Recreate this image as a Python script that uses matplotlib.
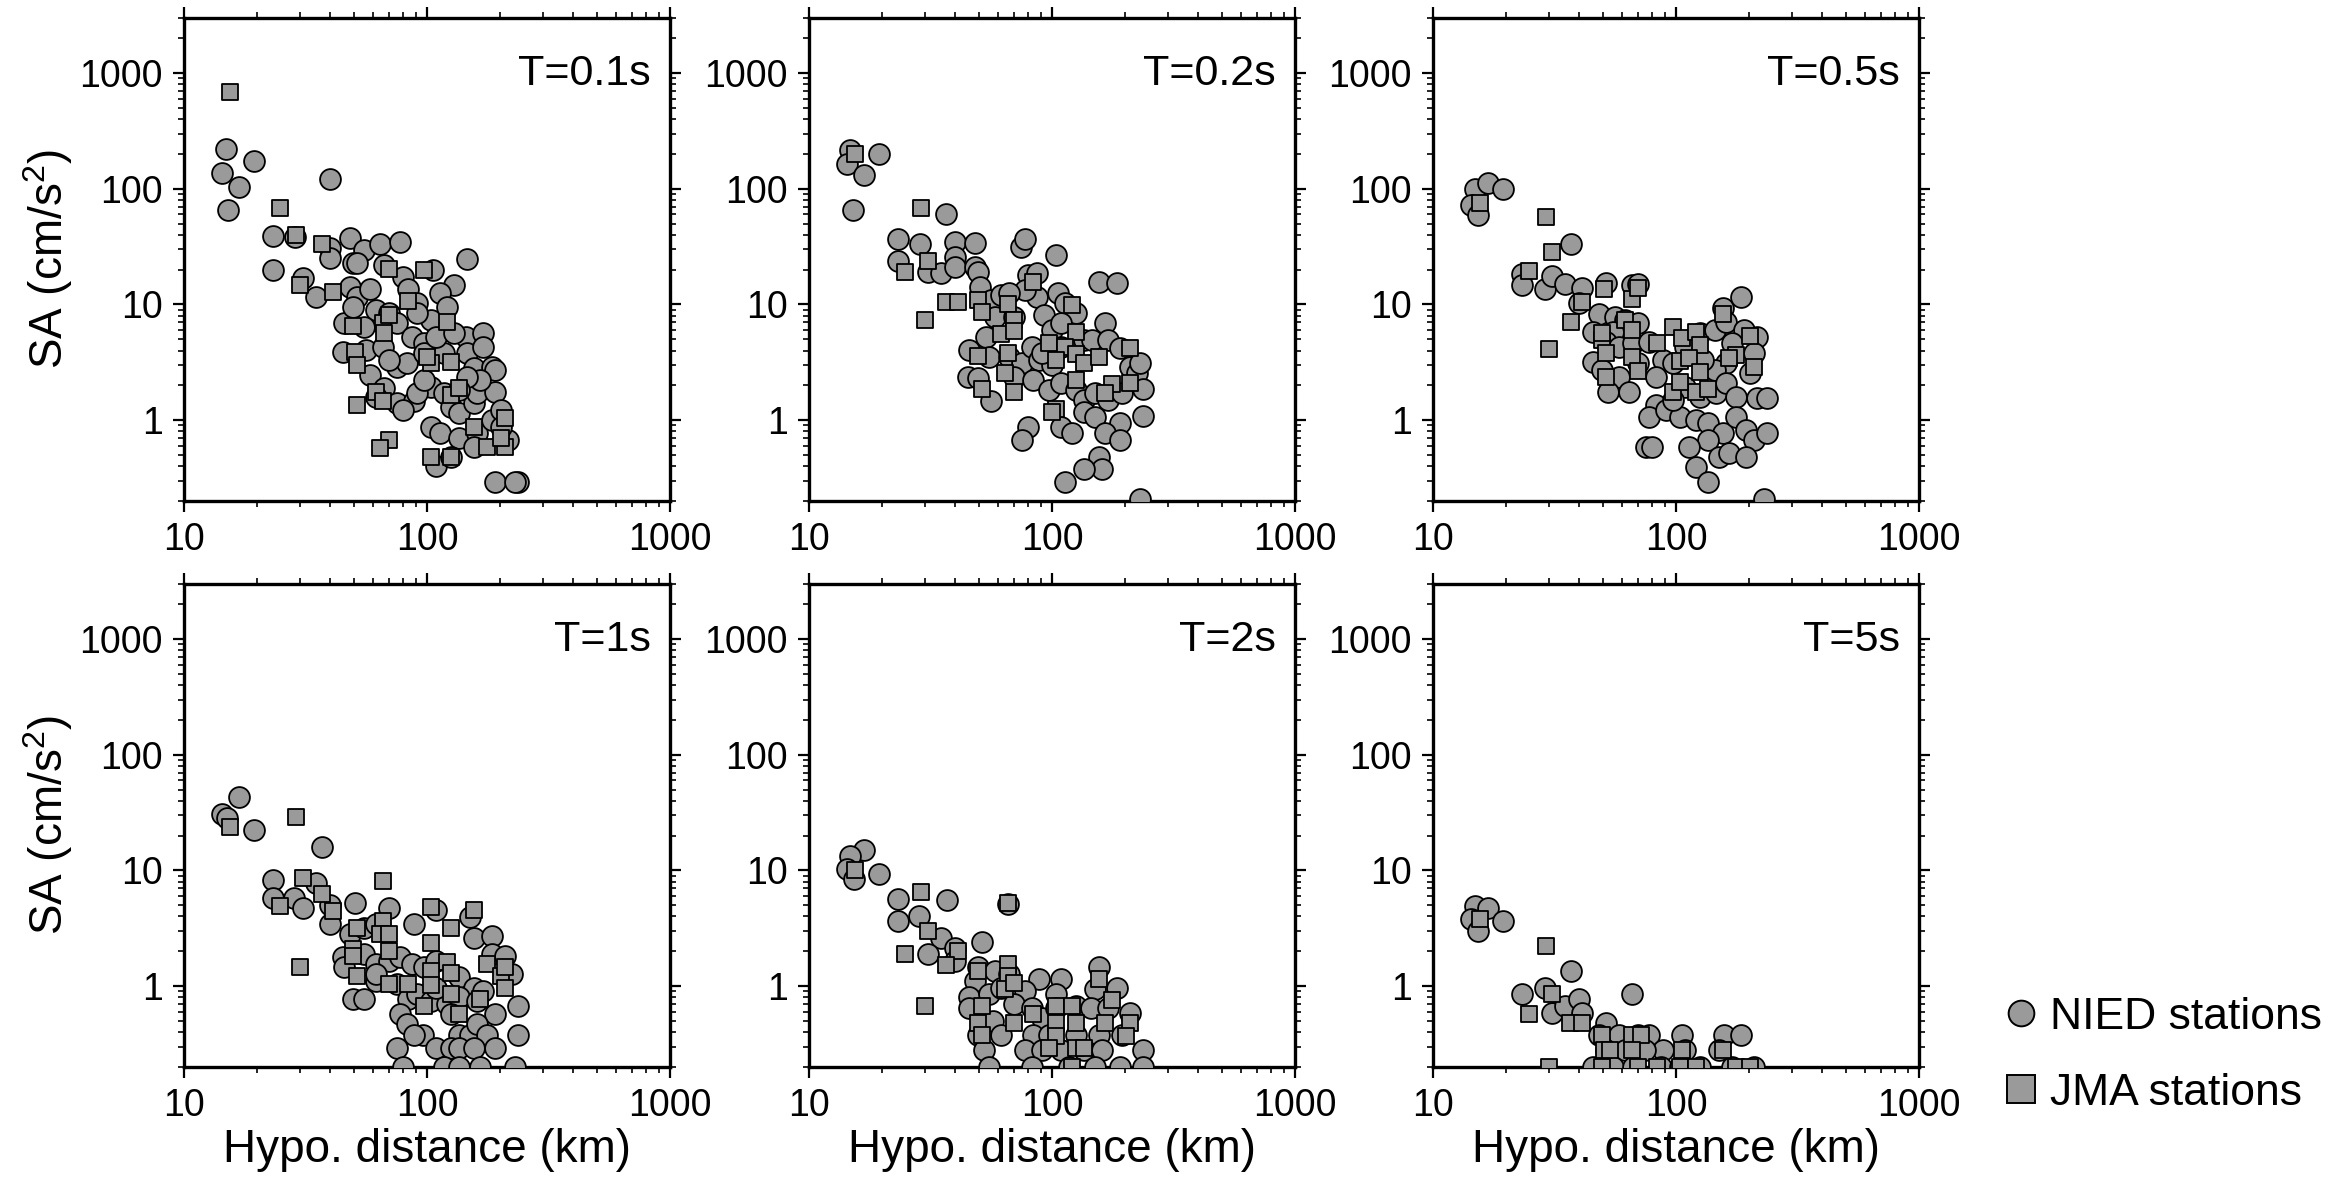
import numpy as np
import matplotlib.pyplot as plt
from matplotlib.ticker import LogLocator, NullFormatter
from matplotlib.lines import Line2D

plt.rcParams['font.family'] = ['Liberation Sans', 'DejaVu Sans']
plt.rcParams['mathtext.fontset'] = 'custom'
plt.rcParams['mathtext.rm'] = 'Liberation Sans'

periods = ['T=0.1s', 'T=0.2s', 'T=0.5s', 'T=1s', 'T=2s', 'T=5s']

# (hypocentral distance km, SA cm/s2)
nied_01 = [(14.9, 221), (19.4, 175), (14.4, 136), (16.8, 104), (15.2, 66), (39.9, 122), (23.3, 39.4),
           (28.6, 38.6), (23.3, 19.9), (31.0, 16.8), (35.1, 11.5), (39.9, 30.6), (39.9, 25.1), (48.4, 37.9),
           (55.0, 29.6), (64.0, 33.1), (77.6, 34.5), (145.5, 24.6), (49.8, 22.7), (66.5, 22.0), (79.8, 17.4),
           (106, 19.9), (129, 14.8), (83.6, 13.5), (113, 12.5), (48.4, 14.3), (51.6, 11.7), (58.2, 13.5),
           (61.6, 8.97), (69.8, 8.40), (91.2, 10.2), (103.5, 7.35), (121, 9.58), (45.5, 6.87), (55.0, 6.44),
           (75.5, 6.87), (87.1, 5.27), (97.3, 4.61), (144.5, 5.27), (170, 5.64), (45.2, 3.91), (56.0, 4.04),
           (65.8, 4.32), (58.2, 2.46), (75.5, 2.90), (83.0, 3.10), (97.3, 3.78), (117.5, 3.78), (145.5, 3.78),
           (156, 2.81), (184.5, 2.90), (190, 2.72), (66.5, 1.88), (61.6, 1.60), (75.5, 1.40), (88.5, 1.45),
           (103.5, 1.95), (117.5, 1.71), (126, 1.31), (135, 1.15), (156, 1.40), (161, 1.71), (190, 1.76),
           (166, 2.22), (103.5, 0.88), (113, 0.77), (135, 0.70), (161, 0.77), (184.5, 1.0), (216, 0.67),
           (156, 0.59), (109.4, 0.40), (126, 0.48), (190, 0.29), (237, 0.29), (230, 0.29), (202, 1.22),
           (145.5, 2.38), (91.2, 1.71), (79.8, 1.22), (69.6, 3.31), (49.8, 9.58), (51.6, 22.7), (91.2, 8.40),
           (109.4, 5.27), (129, 5.64), (170, 4.32), (202, 0.88), (97.3, 2.22), (135, 1.82)]
jma_01 = [(15.5, 682), (24.8, 68.3), (29.0, 40.2), (37.1, 33.1), (30.1, 14.8), (41.2, 12.7), (69.8, 20.1),
          (96.8, 19.9), (83.6, 10.8), (49.8, 6.56), (65.8, 6.87), (121, 7.01), (50.4, 3.91), (51.6, 3.00),
          (103.5, 3.14), (126, 3.21), (66.5, 5.64), (69.6, 8.12), (61.5, 1.76), (65.8, 1.45), (51.6, 1.35),
          (126, 1.65), (135, 1.88), (156, 0.88), (209, 1.05), (176, 0.59), (209, 0.59), (202, 0.70),
          (69.6, 0.68), (64.0, 0.58), (103.5, 0.48), (126, 0.48), (99.8, 3.54)]

nied_02 = [(14.8, 217), (14.4, 164), (19.4, 200), (16.8, 132), (15.2, 65.6), (36.8, 60.6), (23.3, 36.6),
           (28.6, 33.3), (39.9, 34.9), (48.4, 33.8), (23.3, 23.9), (31.0, 19.2), (35.1, 18.8), (39.9, 25.9),
           (39.9, 21.3), (48.4, 21.3), (49.8, 19.2), (74.5, 31.6), (77.6, 36.6), (103.5, 26.8), (156, 15.6),
           (184.5, 15.2), (79.8, 18.0), (87.1, 18.8), (87.1, 11.7), (77.6, 13.3), (50.4, 14.3), (56.0, 10.9),
           (61.5, 12.1), (66.5, 12.5), (58.2, 7.85), (53.3, 5.27), (69.6, 7.85), (92.7, 8.12), (106, 12.5),
           (113, 10.2), (126, 8.39), (166, 6.97), (99.8, 6.02), (109.4, 6.87), (45.5, 4.04), (55.0, 3.54),
           (66.5, 3.54), (75.5, 3.10), (83.0, 4.32), (88.5, 3.31), (99.8, 3.00), (109.4, 4.32), (135, 4.93),
           (145.5, 4.93), (170, 4.93), (190, 4.18), (209, 2.90), (223, 2.54), (45.2, 2.38), (49.8, 2.30),
           (56.0, 1.45), (69.6, 2.38), (83.6, 2.22), (97.3, 1.82), (109.4, 2.08), (126, 1.82), (135, 1.49),
           (150, 1.71), (170, 1.49), (194.5, 1.71), (237, 1.85), (135, 1.18), (150, 1.07), (190, 0.95),
           (237, 1.09), (166, 0.77), (190, 0.67), (79.8, 0.88), (75.5, 0.67), (109.4, 0.88), (121, 0.77),
           (156, 0.48), (161, 0.38), (135, 0.38), (113, 0.29), (230, 0.21), (230, 3.10), (91.2, 3.78)]
jma_02 = [(15.5, 200), (29.0, 67.8), (31.0, 23.8), (24.8, 19.2), (36.8, 10.6), (41.2, 10.5), (30.1, 7.35),
          (49.8, 10.9), (51.6, 8.67), (65.8, 10.1), (69.8, 7.35), (61.6, 5.52), (69.8, 5.90), (83.6, 15.6),
          (121, 9.90), (126, 5.82), (96.8, 4.61), (113, 4.32), (103.5, 3.31), (126, 3.71), (135.5, 3.10),
          (156, 3.54), (209, 4.18), (49.8, 3.59), (65.8, 3.78), (64.0, 2.58), (51.6, 1.85), (69.6, 1.74),
          (126, 2.22), (176, 2.05), (209, 2.11), (166, 1.73), (103.5, 1.26), (99.8, 1.18)]

nied_05 = [(14.9, 99), (16.9, 113), (19.4, 99), (14.4, 72.6), (15.3, 59.4), (37.1, 33.3), (23.3, 18.4),
           (23.3, 14.8), (28.8, 13.5), (31.0, 17.6), (35.1, 15.1), (41.2, 13.8), (39.9, 10.2), (51.6, 15.3),
           (65.8, 14.8), (69.6, 15.1), (48.4, 8.28), (56.0, 7.85), (61.6, 7.35), (45.5, 5.83), (55.0, 5.83),
           (69.6, 6.88), (51.6, 4.78), (58.2, 4.32), (66.5, 4.62), (45.5, 3.21), (49.8, 2.72), (58.2, 2.38),
           (52.5, 1.76), (64.0, 1.76), (77.6, 4.78), (88.5, 3.32), (83.0, 2.38), (97.3, 3.10), (109.4, 4.32),
           (126, 5.64), (144.5, 6.02), (156, 9.27), (184.5, 11.7), (161, 7.11), (190, 6.02), (216, 5.27),
           (170, 4.62), (161, 3.10), (209, 3.78), (202, 2.54), (144.5, 2.72), (109.4, 1.95), (126, 1.60),
           (145.5, 1.71), (161, 2.08), (176, 1.60), (216, 1.55), (237, 1.55), (83.0, 1.35), (77.6, 1.07),
           (91.2, 1.23), (103.5, 1.07), (121, 1.00), (135, 0.94), (156, 0.77), (176, 1.07), (194.5, 0.82),
           (209, 0.67), (237, 0.77), (135, 0.67), (150, 0.48), (166, 0.52), (194.5, 0.48), (113, 0.59),
           (75.5, 0.59), (79.8, 0.59), (121, 0.39), (135.5, 0.29), (230, 0.21), (97.3, 1.50), (69.6, 3.10),
           (129, 3.32)]
jma_05 = [(15.6, 75), (29.2, 56.8), (31.0, 28.2), (24.8, 19.5), (41.2, 10.6), (50.4, 13.5), (65.8, 11.1),
          (69.6, 13.8), (37.1, 7.11), (30.1, 4.10), (49.8, 4.93), (51.6, 3.84), (61.6, 7.35), (65.8, 6.02),
          (49.8, 5.64), (65.8, 3.50), (69.8, 2.68), (51.6, 2.35), (83.6, 4.62), (97.3, 6.44), (106, 5.10),
          (121, 5.83), (126, 4.47), (103.5, 3.27), (113, 3.43), (126, 2.63), (97.3, 1.76), (121, 1.74),
          (135.5, 1.85), (103.5, 2.15), (156, 8.28), (202, 5.35), (176, 3.66), (209, 2.86), (166, 3.43)]

nied_1 = [(16.8, 43.3), (14.4, 31.0), (15.0, 28.3), (19.4, 22.3), (37.1, 15.8), (23.3, 8.28), (23.3, 5.83),
          (28.4, 5.83), (31.0, 4.72), (35.1, 7.85), (39.9, 5.04), (39.9, 3.47), (50.4, 5.28), (69.6, 4.72),
          (88.5, 3.47), (109.4, 4.53), (150, 3.97), (156, 2.60), (184.5, 2.72), (48.4, 2.81), (55.0, 3.21),
          (61.6, 3.43), (45.2, 1.77), (45.5, 1.45), (55.0, 1.89), (61.6, 1.55), (69.6, 1.65), (77.6, 1.77),
          (87.1, 1.55), (97.3, 1.45), (109.4, 1.65), (135, 1.19), (156, 0.97), (170, 0.91), (184.5, 1.89),
          (209, 1.82), (223, 1.27), (49.8, 0.77), (55.0, 0.77), (61.6, 1.11), (75.5, 1.04), (83.6, 0.77),
          (91.2, 0.85), (103.5, 0.75), (121, 0.70), (135, 0.80), (161, 0.75), (190, 0.57), (237, 0.67),
          (77.6, 0.57), (83.0, 0.47), (96, 0.38), (88.5, 0.38), (126, 0.57), (135, 0.38), (150, 0.38),
          (161, 0.47), (176, 0.38), (237, 0.38), (75.5, 0.29), (109.4, 0.29), (126, 0.29), (135.5, 0.29),
          (156, 0.29), (190, 0.29), (79.8, 0.20), (117.5, 0.20), (135, 0.20), (166, 0.20), (230, 0.20),
          (61.6, 1.27), (109.4, 0.97)]
jma_1 = [(29.0, 29.0), (15.5, 23.8), (31.0, 8.68), (37.1, 6.31), (24.8, 4.88), (41.2, 4.42), (65.8, 8.12),
         (51.6, 3.17), (65.8, 3.66), (64.0, 2.81), (69.6, 2.81), (49.8, 2.08), (49.8, 1.82), (69.6, 2.02),
         (30.1, 1.45), (51.6, 1.22), (69.6, 1.05), (83.6, 1.05), (103.5, 4.84), (156, 4.53), (126, 3.17),
         (103.5, 2.38), (121, 1.63), (103.5, 1.34), (126, 1.31), (103.5, 1.02), (126, 0.86), (166, 0.77),
         (96.8, 0.67), (135.5, 0.57), (176, 1.55), (202, 1.22), (209, 1.45), (209, 0.97)]

nied_2 = [(16.8, 15.0), (14.8, 13.4), (14.3, 10.2), (15.3, 8.39), (19.4, 9.27), (23.3, 5.63), (37.1, 5.56),
          (23.3, 3.66), (28.5, 4.05), (35.1, 2.63), (31.0, 1.91), (39.9, 2.15), (39.9, 1.65), (51.6, 2.41),
          (65.8, 5.16), (49.8, 1.45), (58.2, 1.35), (66.5, 1.27), (88.5, 1.15), (109.4, 1.15), (156, 1.45),
          (150, 0.94), (184.5, 0.97), (48.4, 1.11), (45.5, 0.80), (55.0, 0.85), (61.6, 0.97), (77.6, 0.91),
          (69.6, 0.70), (83.0, 0.65), (91.2, 0.53), (103.5, 0.85), (126, 0.67), (144.5, 0.65), (170, 0.65),
          (209, 0.59), (45.5, 0.65), (57.0, 0.50), (49.8, 0.38), (61.6, 0.38), (83.6, 0.38), (97.3, 0.38),
          (126, 0.38), (156, 0.38), (194.5, 0.38), (52.5, 0.28), (77.6, 0.28), (91.2, 0.28), (109.4, 0.28),
          (135, 0.28), (161, 0.28), (237, 0.28), (55.0, 0.20), (83.0, 0.20), (117.5, 0.20), (150, 0.20),
          (190, 0.20), (237, 0.20), (103.5, 0.65)]
jma_2 = [(15.5, 10.1), (29.0, 6.51), (65.8, 5.20), (31.0, 3.00), (41.2, 2.01), (24.8, 1.91), (36.8, 1.52),
         (49.8, 1.34), (65.8, 1.55), (65.8, 1.23), (64.0, 0.94), (69.6, 1.07), (30.1, 0.67), (51.6, 0.67),
         (49.8, 0.48), (69.8, 0.48), (83.6, 0.57), (103.5, 0.67), (121, 0.67), (156, 1.15), (176, 0.76),
         (103.5, 0.48), (126, 0.48), (166, 0.48), (209, 0.48), (51.6, 0.38), (103.5, 0.37), (202, 0.37),
         (96.8, 0.29), (126, 0.29), (135.5, 0.29), (121, 0.20)]

nied_5 = [(14.9, 4.94), (16.9, 4.78), (19.4, 3.66), (14.4, 3.79), (15.3, 3.01), (37.1, 1.34), (23.3, 0.86),
          (28.8, 0.96), (31.0, 0.58), (35.1, 0.67), (39.9, 0.77), (41.2, 0.59), (51.6, 0.48), (65.8, 0.86),
          (48.4, 0.38), (58.2, 0.38), (69.6, 0.38), (77.6, 0.38), (106, 0.38), (158, 0.38), (184.5, 0.38),
          (88.5, 0.28), (109.4, 0.28), (150, 0.28), (51.6, 0.28), (61.6, 0.28), (74.5, 0.28), (45.5, 0.20),
          (55.0, 0.20), (66.5, 0.20), (87.1, 0.20), (103.5, 0.20), (126, 0.20), (170, 0.20), (209, 0.20)]
jma_5 = [(15.6, 3.79), (29.2, 2.20), (31.0, 0.85), (24.8, 0.57), (36.8, 0.48), (41.2, 0.48), (49.8, 0.38),
         (65.8, 0.38), (72.0, 0.38), (50.4, 0.28), (53.3, 0.28), (65.8, 0.28), (106, 0.28), (156, 0.28),
         (30.1, 0.20), (49.8, 0.20), (69.6, 0.20), (83.6, 0.20), (103.5, 0.20), (121, 0.20), (176, 0.20),
         (202, 0.20)]

nied = [nied_01, nied_02, nied_05, nied_1, nied_2, nied_5]
jma = [jma_01, jma_02, jma_05, jma_1, jma_2, jma_5]

gray = '#9a9a9a'
fs = 27

fig = plt.figure(figsize=(23.46, 11.83), dpi=100)
lefts = [0.0784, 0.3448, 0.6108]
bottoms = [0.5765, 0.0981]
w, h = 0.2072, 0.4083

for i in range(6):
    r, c = divmod(i, 3)
    ax = fig.add_axes([lefts[c], bottoms[r], w, h])
    ax.set_xscale('log')
    ax.set_yscale('log')

    d, sa = np.array(nied[i]).T
    ax.scatter(d, sa, s=225, marker='o', facecolor=gray, edgecolor='k', linewidth=1.3, zorder=3)
    d, sa = np.array(jma[i]).T
    ax.scatter(d, sa, s=135, marker='s', facecolor=gray, edgecolor='k', linewidth=1.3, zorder=4)

    ax.set_xlim(10, 1000)
    ax.set_ylim(0.2, 3000)
    ax.set_xticks([10, 100, 1000])
    ax.set_xticklabels(['10', '100', '1000'])
    ax.set_yticks([1, 10, 100, 1000])
    ax.set_yticklabels(['1', '10', '100', '1000'])
    ax.xaxis.set_minor_locator(LogLocator(base=10, subs=np.arange(2, 10)))
    ax.yaxis.set_minor_locator(LogLocator(base=10, subs=np.arange(2, 10)))
    ax.xaxis.set_minor_formatter(NullFormatter())
    ax.yaxis.set_minor_formatter(NullFormatter())
    ax.tick_params(which='both', direction='out', top=True, right=True, labelsize=fs)
    ax.tick_params(which='major', length=8, width=1.6, pad=7)
    ax.tick_params(which='minor', length=4.3, width=1.2)
    for sp in ax.spines.values():
        sp.set_linewidth(2.4)

    ax.text(0.96, 0.883, periods[i], transform=ax.transAxes, ha='right', va='center', fontsize=31)
    if c == 0:
        ax.set_ylabel('SA (cm/s$^{\\mathregular{2}}$)', fontsize=33, labelpad=3)
    if r == 1:
        ax.set_xlabel('Hypo. distance (km)', fontsize=33, labelpad=3)

handles = [Line2D([], [], ls='none', marker='o', ms=18.5, mfc=gray, mec='k', mew=1.4),
           Line2D([], [], ls='none', marker='s', ms=20, mfc=gray, mec='k', mew=1.4)]
fig.legend(handles, ['NIED stations', 'JMA stations'], loc='center left',
           bbox_to_anchor=(0.8445, 0.108), frameon=False, fontsize=32,
           handlelength=0.8, handletextpad=0.25, labelspacing=0.78, borderpad=0)

fig.savefig('out.png', dpi=100)
